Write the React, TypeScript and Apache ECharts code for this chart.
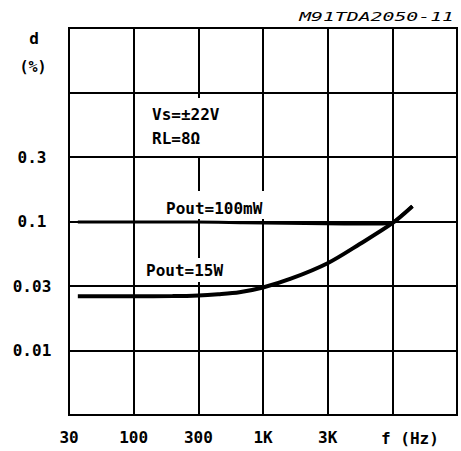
import React, { useEffect, useRef } from "react";
import * as echarts from "echarts";

// Frequency (Hz) vs distortion d (%)
const pout100mW: [number, number][] = [
  [37, 0.099],
  [300, 0.099],
  [700, 0.098],
  [1500, 0.097],
  [3000, 0.096],
  [6000, 0.0955],
  [9000, 0.096],
  [10000, 0.098],
  [12000, 0.113],
  [14300, 0.1315],
];

const pout15W: [number, number][] = [
  [37, 0.0263],
  [100, 0.0263],
  [200, 0.0264],
  [316, 0.0267],
  [450, 0.0273],
  [657, 0.0283],
  [1000, 0.0308],
  [1640, 0.036],
  [3160, 0.0475],
  [5600, 0.0669],
  [10000, 0.097],
  [14300, 0.1315],
];

const xHiddenLabels = [10000, 31623];
const yHiddenLabels = [0.00316, 1, 3.16];

const FONT = "'DejaVu Sans Mono', monospace";

function oneSig(v: number): { r: number; e: number } {
  const e = Math.floor(Math.log10(v) + 1e-9);
  const m = Math.round(v / Math.pow(10, e));
  return { r: m * Math.pow(10, e), e };
}

function isHidden(v: number, list: number[]) {
  return list.some((h) => Math.abs(Math.log10(v) - Math.log10(h)) < 0.05);
}

function fmtX(v: number): string {
  if (isHidden(v, xHiddenLabels)) return "";
  const { r } = oneSig(v);
  if (r >= 1000) return Math.round(r / 1000) + "K";
  return String(Math.round(r));
}

function fmtY(v: number): string {
  if (isHidden(v, yHiddenLabels)) return "";
  const { r, e } = oneSig(v);
  return r.toFixed(Math.max(0, -e));
}

export default function App() {
  const ref = useRef<HTMLDivElement>(null);
  useEffect(() => {
    if (!ref.current) return;
    const chart = echarts.init(ref.current, null, { renderer: "svg" });
    const gridLine = { show: true, lineStyle: { color: "#000", width: 2 } };
    const labelStyle = {
      color: "#000",
      fontFamily: FONT,
      fontSize: 16,
      fontWeight: "bold" as const,
    };
    chart.setOption({
      animation: false,
      backgroundColor: "#fff",
      grid: {
        left: 69,
        right: 4,
        top: 28,
        bottom: 36,
        show: true,
        borderColor: "#000",
        borderWidth: 2,
        backgroundColor: "transparent",
      },
      xAxis: {
        type: "log",
        logBase: Math.sqrt(10),
        min: Math.pow(10, 1.5),
        max: Math.pow(10, 4.5),
        splitNumber: 6,
        axisLine: { show: false },
        axisTick: { show: false },
        splitLine: gridLine,
        axisLabel: {
          ...labelStyle,
          margin: 14,
          showMinLabel: true,
          showMaxLabel: true,
          formatter: fmtX,
        },
      },
      yAxis: {
        type: "log",
        logBase: Math.sqrt(10),
        min: Math.pow(10, -2.5),
        max: Math.pow(10, 0.5),
        splitNumber: 6,
        axisLine: { show: false },
        axisTick: { show: false },
        splitLine: gridLine,
        axisLabel: {
          ...labelStyle,
          margin: 37,
          align: "center",
          showMinLabel: true,
          showMaxLabel: true,
          formatter: fmtY,
        },
      },
      series: [
        {
          name: "Pout=100mW",
          type: "line",
          data: pout100mW,
          symbol: "none",
          smooth: 0.3,
          lineStyle: { color: "#000", width: 3 },
          z: 3,
        },
        {
          name: "Pout=15W",
          type: "line",
          data: pout15W,
          symbol: "none",
          smooth: 0.3,
          lineStyle: { color: "#000", width: 4 },
          z: 3,
        },
      ],
      graphic: [
        { type: "rect", z: 1, shape: { x: 140, y: 98, width: 118, height: 58 }, style: { fill: "#fff" } },
        { type: "rect", z: 1, shape: { x: 162, y: 191, width: 143, height: 28 }, style: { fill: "#fff" } },
        { type: "rect", z: 1, shape: { x: 142, y: 258, width: 114, height: 24 }, style: { fill: "#fff" } },
        {
          type: "text",
          z: 5,
          x: 454,
          y: 17,
          scaleX: 1.65,
          style: {
            text: "M91TDA2050-11",
            font: `italic 12px ${FONT}`,
            fill: "#000",
            align: "right",
            verticalAlign: "middle",
          },
        },
        {
          type: "text",
          z: 5,
          x: 34,
          y: 38,
          style: { text: "d", font: `bold 16px ${FONT}`, fill: "#000", align: "center", verticalAlign: "middle" },
        },
        {
          type: "text",
          z: 5,
          x: 33,
          y: 67,
          style: { text: "(%)", font: `bold 15px ${FONT}`, fill: "#000", align: "center", verticalAlign: "middle" },
        },
        {
          type: "text",
          z: 5,
          x: 152,
          y: 114,
          style: { text: "Vs=±22V", font: `bold 16px ${FONT}`, fill: "#000", align: "left", verticalAlign: "middle" },
        },
        {
          type: "text",
          z: 5,
          x: 152,
          y: 138,
          style: { text: "RL=8Ω", font: `bold 16px ${FONT}`, fill: "#000", align: "left", verticalAlign: "middle" },
        },
        {
          type: "text",
          z: 5,
          x: 166,
          y: 208,
          style: { text: "Pout=100mW", font: `bold 16px ${FONT}`, fill: "#000", align: "left", verticalAlign: "middle" },
        },
        {
          type: "text",
          z: 5,
          x: 146,
          y: 270,
          style: { text: "Pout=15W", font: `bold 16px ${FONT}`, fill: "#000", align: "left", verticalAlign: "middle" },
        },
        {
          type: "text",
          z: 5,
          x: 381,
          y: 438,
          style: { text: "f (Hz)", font: `bold 16px ${FONT}`, fill: "#000", align: "left", verticalAlign: "middle" },
        },
      ],
    });
    return () => chart.dispose();
  }, []);
  return (
    <div
      ref={ref}
      style={{ position: "fixed", left: 0, top: 0, width: 461, height: 451 }}
    />
  );
}
